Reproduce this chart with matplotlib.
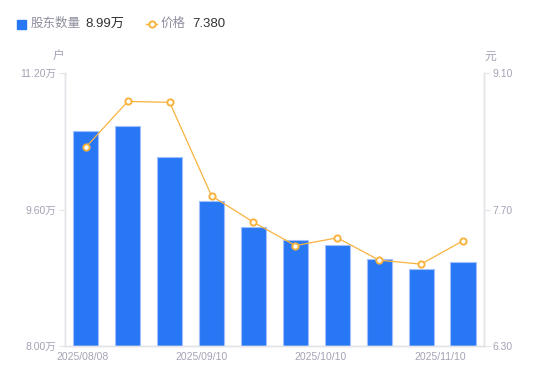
import matplotlib.pyplot as plt
from matplotlib.lines import Line2D
from matplotlib.patches import Rectangle

plt.rcParams["font.family"] = ["Liberation Sans", "Noto Sans CJK SC", "DejaVu Sans"]

# 股东数量 (万户) and 价格 (元)
holders = [10.52, 10.58, 10.22, 9.70, 9.39, 9.24, 9.19, 9.02, 8.90, 8.99]
prices = [8.34, 8.81, 8.80, 7.84, 7.57, 7.33, 7.41, 7.18, 7.14, 7.38]
date_labels = ["2025/08/08", "2025/09/10", "2025/10/10", "2025/11/10"]
date_pos = [-0.09, 2.75, 5.59, 8.45]
left_ticks = [8.00, 9.60, 11.20]
right_ticks = [6.30, 7.70, 9.10]

BLUE = "#2878f5"
ORANGE = "#f8b33e"
GREY = "#a3a3b5"
AXIS = "#e3e3e8"

fig = plt.figure(figsize=(5.5, 3.81), dpi=100)
ax = fig.add_axes([0.118, 0.092, 0.762, 0.716])
ax2 = ax.twinx()

x = list(range(len(holders)))
ax.bar(x, holders, width=0.6, color=BLUE, edgecolor="#9fc0fb", linewidth=0.8, zorder=2)
ax.set_xlim(-0.5, len(holders) - 0.5)
ax.set_ylim(left_ticks[0], left_ticks[-1])
ax.set_yticks(left_ticks)
ax.set_yticklabels([f"{v:.2f}万" for v in left_ticks])
ax.set_xticks(date_pos)
ax.set_xticklabels(date_labels)

ax2.plot(x, prices, color=ORANGE, linewidth=0.9, marker="o", markersize=4.5,
         markerfacecolor="white", markeredgecolor=ORANGE, markeredgewidth=1.4, zorder=3)
ax2.set_ylim(right_ticks[0], right_ticks[-1])
ax2.set_yticks(right_ticks)
ax2.set_yticklabels([f"{v:.2f}" for v in right_ticks])

for a in (ax, ax2):
    a.spines["top"].set_visible(False)
    for s in ("left", "right", "bottom"):
        a.spines[s].set_color(AXIS)
        a.spines[s].set_linewidth(1.0)
    a.tick_params(axis="y", colors=AXIS, labelcolor=GREY, labelsize=7.5, length=4, width=0.8, pad=2)
ax.tick_params(axis="x", length=0, labelcolor=GREY, labelsize=7.5, pad=4)

fig.text(0.107, 0.85, "户", color=GREY, fontsize=8.5, ha="center", va="center")
fig.text(0.891, 0.85, "元", color=GREY, fontsize=8.5, ha="center", va="center")

# legend row
fig.patches.append(Rectangle((17 / 550, 1 - 29 / 381), 9 / 550, 9 / 381,
                             transform=fig.transFigure, color=BLUE, figure=fig))
fig.text(31 / 550, 1 - 24 / 381, "股东数量", color="#8e8e9e", fontsize=9, va="center")
fig.text(85 / 550, 1 - 24 / 381, "8.99万", color="#333333", fontsize=9.5, va="center")
fig.lines.append(Line2D([146 / 550, 157 / 550], [1 - 24 / 381, 1 - 24 / 381],
                        transform=fig.transFigure, color=ORANGE, linewidth=1, figure=fig))
fig.lines.append(Line2D([151.5 / 550], [1 - 24 / 381], transform=fig.transFigure,
                        marker="o", markersize=4.5, markerfacecolor="white",
                        markeredgecolor=ORANGE, markeredgewidth=1.4, linestyle="none", figure=fig))
fig.text(161 / 550, 1 - 24 / 381, "价格", color="#8e8e9e", fontsize=9, va="center")
fig.text(192 / 550, 1 - 24 / 381, "7.380", color="#333333", fontsize=9.5, va="center")

fig.savefig("out.png", dpi=100)
